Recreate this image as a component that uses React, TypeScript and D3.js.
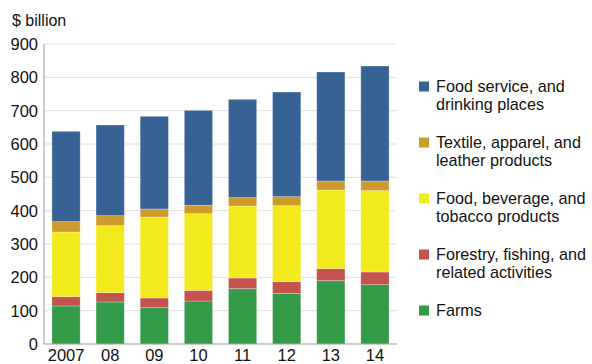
import React from "react";
import * as d3 from "d3";

const years = ["2007", "08", "09", "10", "11", "12", "13", "14"];
const farms = [114, 126, 109, 129, 166, 152, 190, 178];
const forestry = [28, 28, 29, 32, 32, 35, 36, 38];
const foodBev = [194, 201, 243, 230, 216, 228, 236, 244];
const textile = [31, 30, 24, 25, 25, 27, 27, 29];
const foodService = [271, 272, 278, 285, 295, 314, 327, 345];
const yTicks = [0, 100, 200, 300, 400, 500, 600, 700, 800, 900];

const seriesKeys = ["farms", "forestry", "foodBev", "textile", "foodService"];
const seriesLabels: Record<string, string[]> = {
  foodService: ["Food service, and", "drinking places"],
  textile: ["Textile, apparel, and", "leather products"],
  foodBev: ["Food, beverage, and", "tobacco products"],
  forestry: ["Forestry, fishing, and", "related activities"],
  farms: ["Farms"],
};
const colors: Record<string, string> = {
  farms: "#339a48",
  forestry: "#c4524e",
  foodBev: "#f2ea1c",
  textile: "#cf9a2c",
  foodService: "#366294",
};
const legendOrder = ["foodService", "textile", "foodBev", "forestry", "farms"];

export default function App() {
  const W = 592, H = 364;
  const left = 44, right = 397, top = 44, bottom = 344;
  const rows = years.map((y, i) => ({
    year: y,
    farms: farms[i],
    forestry: forestry[i],
    foodBev: foodBev[i],
    textile: textile[i],
    foodService: foodService[i],
  }));
  const stacked = d3.stack<any>().keys(seriesKeys)(rows);
  const x = d3.scaleBand().domain(years).range([left, right]).paddingInner(0.36).paddingOuter(0.18);
  const y = d3.scaleLinear().domain([0, 900]).range([bottom, top]);
  const font = "Liberation Sans, Arial, Helvetica, sans-serif";

  return (
    <svg width={W} height={H} style={{ position: "absolute", left: 0, top: 0 }} fontFamily={font}>
      <rect width={W} height={H} fill="#fff" />
      {yTicks.map((t) => (
        <g key={t}>
          {t > 0 && <line x1={left} x2={right} y1={y(t)} y2={y(t)} stroke="#e0e0e0" strokeWidth={1} />}
          <text x={38} y={y(t)} dy="0.36em" textAnchor="end" fontSize={16.5} fill="#111">{t}</text>
        </g>
      ))}
      <text x={12} y={26} fontSize={16} fill="#111">$ billion</text>
      {stacked.map((s) => (
        <g key={s.key} fill={colors[s.key]}>
          {s.map((d, i) => (
            <rect
              key={i}
              x={x(years[i])!}
              width={x.bandwidth()}
              y={y(d[1])}
              height={y(d[0]) - y(d[1])}
              stroke="rgba(255,255,255,0.35)"
              strokeWidth={0.8}
            />
          ))}
        </g>
      ))}
      <line x1={left} x2={left} y1={top} y2={bottom} stroke="#999" strokeWidth={1} />
      <line x1={left} x2={right} y1={bottom} y2={bottom} stroke="#999" strokeWidth={1.2} />
      {years.map((yr) => (
        <text key={yr} x={x(yr)! + x.bandwidth() / 2} y={361} textAnchor="middle" fontSize={16.5} fill="#111">{yr}</text>
      ))}
      {legendOrder.map((k, i) => {
        const cy = 86.5 + i * 56;
        return (
          <g key={k}>
            <rect x={419} y={cy - 5} width={10} height={10} fill={colors[k]} />
            {seriesLabels[k].map((ln, j) => (
              <text key={j} x={436} y={cy + j * 17.5} dy="0.36em" fontSize={16.2} fill="#111">{ln}</text>
            ))}
          </g>
        );
      })}
    </svg>
  );
}
